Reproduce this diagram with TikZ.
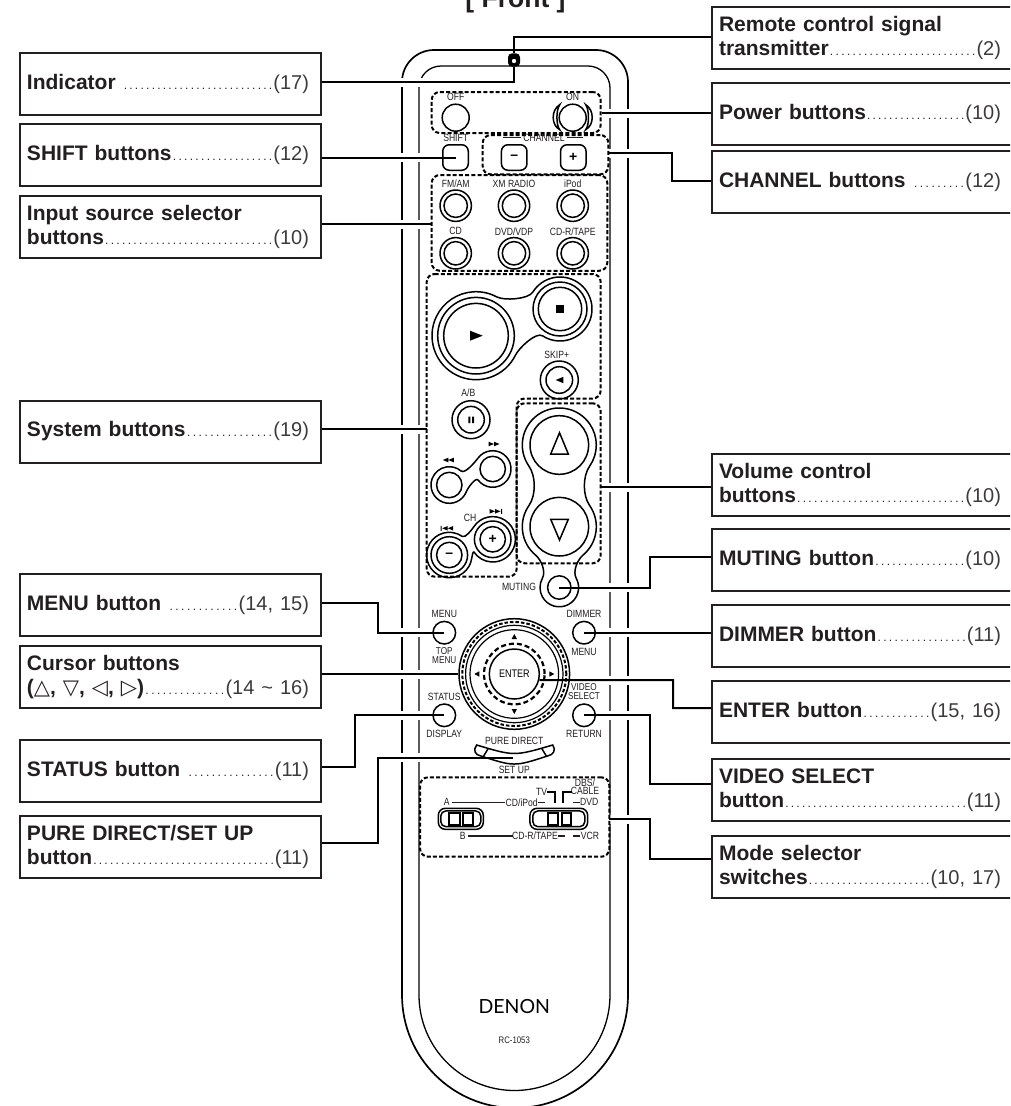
\documentclass[tikz,border=0pt]{standalone}
\usepackage{fontspec}
\setmainfont{Liberation Sans}
\newfontfamily\labelfont[FakeStretch=0.82]{Liberation Sans}
\newfontfamily\brandfont{Lato}
\newfontfamily\glyphfont{DejaVu Sans}
\usetikzlibrary{calc}
\definecolor{inkColor}{RGB}{35,31,32}
\definecolor{pageColor}{RGB}{60,58,58}
\newcommand{\pageline}[2]{\leavevmode\hbox to 282pt{\bfseries #1\xleaders\hbox to 5.5pt{\hss\mdseries\fontsize{12}{12}\selectfont.\hss}\hfill\mdseries\fontsize{20}{24}\selectfont\color{pageColor}#2}}
\newcommand{\twolobe}[8]{\draw[shell,looseness=0.6] ($(#1)+(#3:#2pt)$) arc[start angle=#3,end angle=#4,radius=#2pt] to[out=#4-90,in=#7+90] ($(#5)+(#7:#6pt)$) arc[start angle=#7,end angle=#8,radius=#6pt] to[out=#8-90,in=#3+90] ($(#1)+(#3:#2pt)$) -- cycle;}
\newcommand{\fasttips}[3]{\fill[shift={(#1,#2)},xscale=#3] (-5.5,0) -- (0,-2.3) -- (0,2.3) -- cycle (0,0) -- (5.5,-2.3) -- (5.5,2.3) -- cycle;}
\newcommand{\skiptips}[3]{\fill[shift={(#1,#2)},xscale=#3] (-5.5,0) -- (0,-2.3) -- (0,2.3) -- cycle (0,0) -- (5.5,-2.3) -- (5.5,2.3) -- cycle (-7,-2.5) rectangle (-6,2.5);}
\tikzset{
  infobox/.style={draw=inkColor,line width=2pt,text=inkColor,anchor=north west,inner xsep=7pt,inner ysep=0pt,minimum height=62pt,align=left,font=\fontsize{21}{24}\selectfont},
  leftbox/.style={infobox,text width=287pt},
  rightbox/.style={infobox,text width=298pt},
  wire/.style={line width=2pt,draw=black,line join=miter},
  shell/.style={line width=1.5pt,draw=black},
  ring/.style={circle,draw=black,line width=1.5pt,minimum size=#1,inner sep=0pt},
  keycap/.style={rectangle,draw=black,line width=1.5pt,rounded corners=6.5pt,minimum size=25.5pt,inner sep=0pt,font=\bfseries\fontsize{14}{14}\selectfont},
  dashbox/.style={rectangle,draw=black,line width=2pt,dash pattern=on 4pt off 2.2pt,rounded corners=8pt,inner sep=0pt},
  tag/.style={inner sep=0pt,text=inkColor,font=\labelfont\fontsize{10.5}{8}\selectfont},
  tagpair/.style={tag,align=center,font=\labelfont\fontsize{10}{8.6}\selectfont},
  tick/.style={line width=1.5pt,draw=inkColor},
  cell/.style={line width=1.8pt,draw=black},
}
\begin{document}
\begin{tikzpicture}[x=1pt,y=-1pt]
\path[use as bounding box] (0,0) rectangle (1010,1106);
\path[clip] (0,0) rectangle (1010,1106);

\draw[line width=1.7pt] (402,995) -- (402,82) arc[start angle=180,end angle=90,radius=32pt] -- (596,50) arc[start angle=90,end angle=0,radius=32pt] -- (628,995) arc[start angle=0,end angle=-180,radius=113pt];
\draw[line width=1.3pt] (419,995) -- (419,88) arc[start angle=180,end angle=90,radius=22pt] -- (588,66) arc[start angle=90,end angle=0,radius=22pt] -- (610,995) arc[start angle=0,end angle=-180,radius=95.5pt];
\foreach \y in {82,157,224,429.3,632.7,674,715.3,757.5} \fill[white] (396,\y-4.5) rectangle (425,\y+4.5);
\foreach \y in {113,153,487,587.5,632.7,680,715.3,819} \fill[white] (604,\y-4.5) rectangle (634,\y+4.5);

\node[font=\bfseries\fontsize{26.5}{26.5}\selectfont,text=inkColor,anchor=base,inner sep=0pt] (frontTitle) at (515.5,7) {[ Front ]};

\node[leftbox] (indicatorBox) at (19,52) {\pageline{Indicator\ }{(17)}};
\node[leftbox] (shiftBox) at (19,123) {\pageline{SHIFT buttons}{(12)}};
\node[leftbox] (inputBox) at (19,195) {\textbf{Input source selector}\\\pageline{buttons}{(10)}};
\node[leftbox] (systemBox) at (19,399.5) {\pageline{System buttons}{(19)}};
\node[leftbox] (menuBox) at (19,573) {\pageline{MENU button\ }{(14, 15)}};
\node[leftbox] (cursorBox) at (19,645) {\textbf{Cursor buttons}\\\pageline{({\glyphfont\mdseries △}, {\glyphfont\mdseries ▽}, {\glyphfont\mdseries ◁}, {\glyphfont\mdseries ▷})}{(14 \textasciitilde\ 16)}};
\node[leftbox] (statusBox) at (19,739) {\pageline{STATUS button\ }{(11)}};
\node[leftbox] (pureBox) at (19,815) {\textbf{PURE DIRECT/SET UP}\\\pageline{button}{(11)}};

\node[rightbox] (remoteBox) at (711,6) {\textbf{Remote control signal}\\\pageline{transmitter}{(2)}};
\node[rightbox] (powerBox) at (711,82) {\pageline{Power buttons}{(10)}};
\node[rightbox] (channelBox) at (711,150) {\pageline{CHANNEL buttons\ }{(12)}};
\node[rightbox] (volumeBox) at (711,452.7) {\textbf{Volume control}\\\pageline{buttons}{(10)}};
\node[rightbox] (mutingBox) at (711,528) {\pageline{MUTING button}{(10)}};
\node[rightbox] (dimmerBox) at (711,604) {\pageline{DIMMER button}{(11)}};
\node[rightbox] (enterBox) at (711,680) {\pageline{ENTER button}{(15, 16)}};
\node[rightbox] (videoBox) at (711,758) {\textbf{VIDEO SELECT}\\\pageline{button}{(11)}};
\node[rightbox] (modeBox) at (711,835) {\textbf{Mode selector}\\\pageline{switches}{(10, 17)}};

\node[rectangle,fill=black,rounded corners=4pt,minimum width=12pt,minimum height=13.4pt,inner sep=0pt] (signalLed) at (514,60) {};

\node[dashbox,minimum width=169pt,minimum height=41pt] (powerGroup) at (516.2,112.5) {};
\node[dashbox,minimum width=125.6pt,minimum height=39.3pt] (channelGroup) at (545.5,154.7) {};
\node[dashbox,minimum width=175.6pt,minimum height=95.7pt] (inputGroup) at (519.5,222.9) {};
\node[dashbox,minimum width=84pt,minimum height=160pt] (volumeGroup) at (558.7,483.3) {};
\node[dashbox,minimum width=189.3pt,minimum height=79.4pt] (modeGroup) at (514.7,817) {};
\draw[line width=2pt,dash pattern=on 4pt off 2.2pt,rounded corners=8pt] (426.7,274) -- (600.7,274) -- (600.7,398.5) -- (516.7,398.5) -- (516.7,576.7) -- (426.7,576.7) -- cycle;
\coordinate (systemTap) at (426.7,429.3);
\coordinate (volumeTap) at (600.7,487);
\coordinate (modeTap) at (609.2,819);
\coordinate (pureTap) at (513,757.5);

\node[ring=27pt] (offBtn) at (455.7,117.7) {};
\node[ring=27pt] (onBtn) at (572.7,117.7) {};
\draw[shell] (559.7,104.7) .. controls (551,110) and (551,125) .. (559.7,129.7) .. controls (556,125) and (556,110) .. (559.7,104.7) -- cycle;
\draw[shell] (585.7,104.7) .. controls (594.4,110) and (594.4,125) .. (585.7,129.7) .. controls (589.4,125) and (589.4,110) .. (585.7,104.7) -- cycle;
\node[tag] (offTag) at (455.7,97) {OFF};
\node[tag] (onTag) at (572.7,97) {ON};
\node[tag] (shiftTag) at (455.7,137.7) {SHIFT};
\node[tag] (channelTag) at (544,138) {CHANNEL};
\draw[tick] (503.3,137.7) -- (520.7,137.7) (566.7,137.7) -- (583.3,137.7);
\node[keycap] (shiftBtn) at (455.5,157.5) {};
\node[keycap] (minusBtn) at (514.2,157.5) {--};
\node[keycap] (plusBtn) at (573.3,157.5) {+};

\foreach \name/\x/\y/\txt in {fmBtn/455.7/205.7/{FM/AM},xmBtn/514/205.7/XM RADIO,ipodBtn/572.7/205.7/iPod,cdBtn/455.7/253.3/CD,dvdBtn/514/253.3/{DVD/VDP},tapeBtn/572.7/253.3/{CD-R/TAPE}}{
  \node[ring=31.4pt] (\name) at (\x,\y) {};
  \node[ring=23.4pt] (\name Core) at (\x,\y) {};
  \node[tag] (\name Tag) at (\x,\y-22) {\txt};
}

\coordinate (stopSpot) at (560,309);
\coordinate (playSpot) at (476,335.7);
\twolobe{playSpot}{44}{-26}{-298}{stopSpot}{32}{148}{-123}
\node[ring=76.6pt] (playMid) at (playSpot) {};
\node[ring=64.6pt] (playBtn) at (playSpot) {};
\node[ring=54pt] (stopMid) at (stopSpot) {};
\node[ring=43.4pt] (stopBtn) at (stopSpot) {};
\fill (470,330.7) -- (482.7,335.7) -- (470,340.7) -- cycle;
\fill (556,305) rectangle (564.3,313);

\node[ring=38pt] (skipOuter) at (559.3,380) {};
\node[ring=26.6pt] (skipBtn) at (559.3,380) {};
\node[tag] (skipTag) at (556.7,355) {SKIP+};
\fill (555.7,380) -- (563.3,376.8) -- (563.3,383.2) -- cycle;
\node[ring=38pt] (pauseOuter) at (471,419.7) {};
\node[ring=26.6pt] (pauseBtn) at (471,419.7) {};
\node[tag] (pauseTag) at (468.3,392.7) {A/B};
\fill (468.3,416.7) rectangle (470.4,423) (472.1,416.7) rectangle (474.2,423);

\coordinate (rewSpot) at (449.3,485);
\coordinate (ffSpot) at (492.7,469);
\twolobe{rewSpot}{18.3}{-21}{-310}{ffSpot}{18.3}{143}{-143}
\node[ring=25.4pt] (rewBtn) at (rewSpot) {};
\node[ring=25.4pt] (ffBtn) at (ffSpot) {};
\fasttips{448.3}{460}{1}
\fasttips{494}{444}{-1}

\coordinate (chDownSpot) at (449.3,555);
\coordinate (chUpSpot) at (492.7,539.3);
\twolobe{chDownSpot}{22.7}{-8}{-305}{chUpSpot}{22.7}{147}{-146}
\node[ring=36.6pt] (chDownMid) at (chDownSpot) {};
\node[ring=36.6pt] (chUpMid) at (chUpSpot) {};
\node[ring=25.4pt,font=\bfseries\fontsize{14}{14}\selectfont] (chDownBtn) at (chDownSpot) {--};
\node[ring=25.4pt,font=\bfseries\fontsize{14}{14}\selectfont] (chUpBtn) at (chUpSpot) {+};
\node[tag] (chTag) at (470,518.3) {CH};
\skiptips{447.7}{528.3}{1}
\skiptips{495}{511.3}{-1}

\node[ring=58.6pt] (volUp) at (559.3,445) {};
\node[ring=58.6pt] (volDown) at (559.3,526.7) {};
\node[ring=23.4pt] (muteBtn) at (559.3,587.5) {};
\draw[shell,looseness=0.8] ($(volUp)+(215:37pt)$) arc[start angle=215,end angle=-35,radius=37pt] to[out=-125,in=125] ($(volDown)+(35:37pt)$) arc[start angle=35,end angle=-50,radius=37pt] to[out=-140,in=119] ($(muteBtn)+(29:19.3pt)$) arc[start angle=29,end angle=-209,radius=19.3pt] to[out=61,in=320] ($(volDown)+(230:37pt)$) arc[start angle=230,end angle=145,radius=37pt] to[out=55,in=305] ($(volUp)+(215:37pt)$) -- cycle;
\draw[shell] (559.5,432.7) -- (568.3,454) -- (550.7,454) -- cycle;
\draw[shell] (559.5,540) -- (568.3,519.3) -- (550.7,519.3) -- cycle;
\node[tag] (muteTag) at (519,587.3) {MUTING};

\foreach \name/\x/\y in {menuBtn/444.3/632.7,dimmerBtn/584/632.7,statusBtn/444.3/715.3,videoBtn/584/715.3}{
  \node[ring=22.6pt] (\name) at (\x,\y) {};
}
\node[tag] (menuTag) at (444.3,614) {MENU};
\node[tagpair] (topTag) at (444.3,655.5) {TOP\\MENU};
\node[tag] (dimmerTag) at (584,614) {DIMMER};
\node[tag] (subMenuTag) at (584,651.7) {MENU};
\node[tag] (statusTag) at (444.3,696.7) {STATUS};
\node[tag] (displayTag) at (444.3,734.3) {DISPLAY};
\node[tagpair] (videoTag) at (584,691.8) {VIDEO\\SELECT};
\node[tag] (returnTag) at (584,734.3) {RETURN};

\node[ring=110.6pt] (navBtn) at (514.3,674) {};
\node[ring=97.4pt,line width=1.2pt] (navMid) at (514.3,674) {};
\node[ring=88.6pt,line width=1.2pt] (navCore) at (514.3,674) {};
\draw[line width=2pt,dash pattern=on 3.5pt off 2pt] (navBtn.center) circle[radius=52pt];
\draw[line width=2.2pt,dash pattern=on 5pt off 3pt] (navBtn.center) circle[radius=30.3pt];
\node[ring=50pt,font=\labelfont\fontsize{11}{11}\selectfont] (enterBtn) at (514.3,674) {ENTER};
\foreach \ang in {0,90,180,270}{
  \fill[shift={(514.3,674)},rotate=\ang] (40,0) -- (35,-2.7) -- (35,2.7) -- cycle;
}

\draw[shell] (476.7,745) .. controls (514.3,756.3) .. (552.7,745) .. controls (556.5,750) and (553,755) .. (548.3,755.7) .. controls (514.3,766.8) .. (480,755.7) .. controls (475.5,755) and (472.5,750) .. (476.7,745) -- cycle;
\draw[shell] (488.3,748.3) -- (483.3,756.7) (541.7,748.3) -- (546.7,756.7);
\node[tag] (pureTag) at (514.3,741) {PURE DIRECT};
\node[tag] (setupTag) at (514.3,770.3) {SET UP};

\node[tag] (aTag) at (446.7,802.3) {A};
\node[tag] (bTag) at (462.7,836) {B};
\node[tag] (cdIpodTag) at (521.7,802.3) {CD/iPod};
\node[tag] (tvTag) at (541.7,792.3) {TV};
\node[tag] (dbsTag) at (585,782.7) {DBS/};
\node[tag] (cableTag) at (585,791.3) {CABLE};
\node[tag] (dvdTag) at (589.3,802.3) {DVD};
\node[tag] (cdrTag) at (535,836) {CD-R/TAPE};
\node[tag] (vcrTag) at (590,836) {VCR};
\draw[tick] (452.3,802.3) -- (505,802.3) (538.3,802.3) -- (545,802.3) (573.3,802.3) -- (580,802.3);
\draw[tick] (468.3,836) -- (513.3,836) (557.7,836) -- (565,836) (573.3,836) -- (580,836);
\draw[line width=1.8pt] (546.7,791.7) -- (555,791.7) -- (555,803.3) (571.7,791.7) -- (563.3,791.7) -- (563.3,803.3);
\node[rectangle,draw=black,line width=1.5pt,rounded corners=7pt,minimum width=45pt,minimum height=21pt,inner sep=0pt] (abSwitch) at (460.8,818.8) {};
\node[rectangle,draw=black,line width=1.5pt,rounded corners=5pt,minimum width=40pt,minimum height=15.7pt,inner sep=0pt] (abSlot) at (460.8,818.8) {};
\draw[cell] (449.3,812.7) rectangle (460,825) (462.7,812.7) rectangle (472.7,825);
\node[rectangle,draw=black,line width=1.5pt,rounded corners=7pt,minimum width=57.7pt,minimum height=21pt,inner sep=0pt] (tvSwitch) at (558.8,818.8) {};
\node[rectangle,draw=black,line width=1.5pt,rounded corners=5pt,minimum width=52pt,minimum height=15.7pt,inner sep=0pt] (tvSlot) at (558.8,818.8) {};
\draw[cell] (548.3,812.7) rectangle (558.3,825) (561.7,812.7) rectangle (570.7,825);

\node[font=\brandfont\fontsize{19.5}{20}\selectfont,inner sep=0pt] (brandName) at (514.3,1006.7) {DENON};
\node[tag,font=\labelfont\fontsize{9.5}{10}\selectfont] (modelName) at (514.3,1040.7) {RC-1053};

\draw[wire] (indicatorBox.east |- 0,82) -| (signalLed.south);
\draw[wire] (remoteBox.west |- 0,37) -| (signalLed.north);
\draw[wire] (shiftBox.east |- shiftBtn.center) -- (shiftBtn.center);
\draw[wire] (inputBox.east |- 0,224) -- (inputGroup.west |- 0,224);
\draw[wire] (systemBox.east |- systemTap) -- (systemTap);
\draw[wire] (menuBox.east |- 0,603) -| (378,632.7) -- (menuBtn.center);
\draw[wire] (cursorBox.east |- navBtn.west) -- (navBtn.west);
\draw[wire] (statusBox.east |- 0,767) -| (355,715.3) -- (statusBtn.center);
\draw[wire] (pureBox.east |- 0,843) -| (378,757.5) -- (pureTap);
\draw[wire] (powerBox.west |- powerGroup.east) -- (powerGroup.east);
\draw[wire] (channelBox.west |- 0,181) -| (672,153) -- (channelGroup.east |- 0,153);
\draw[wire] (volumeBox.west |- volumeTap) -- (volumeTap);
\draw[wire] (mutingBox.west |- 0,557) -| (650,587.5) -- (muteBtn.center);
\draw[wire] (dimmerBox.west |- dimmerBtn.center) -- (dimmerBtn.center);
\draw[wire] (enterBox.west |- 0,708) -| (673,680) -- (enterBtn.-14);
\draw[wire] (videoBox.west |- 0,784) -| (650,715.3) -- (videoBtn.center);
\draw[wire] (modeBox.west |- 0,859) -| (650,819) -- (modeTap);
\node[circle,draw=black,fill=white,line width=1.2pt,minimum size=6pt,inner sep=0pt] (ledLens) at (514,61) {};
\end{tikzpicture}
\end{document}
